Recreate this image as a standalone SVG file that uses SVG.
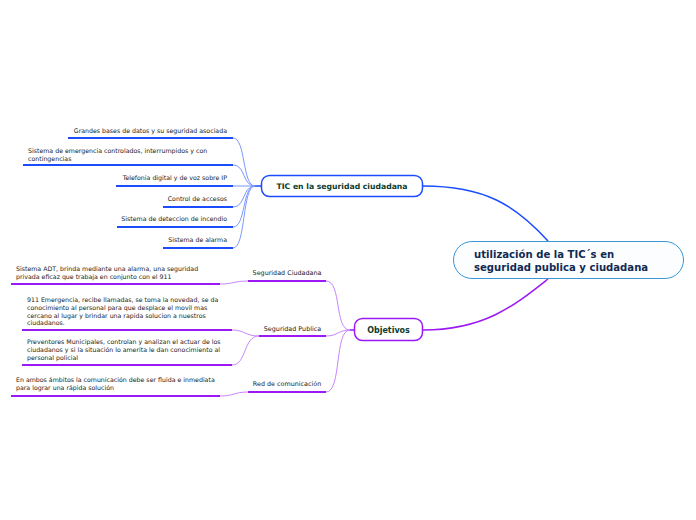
<svg xmlns="http://www.w3.org/2000/svg" width="696" height="520" viewBox="0 0 696 520">
<style>
.leaf{font-family:"DejaVu Sans",Verdana,sans-serif;font-size:6.25px;fill:#222}
.lbl{font-family:"DejaVu Sans",Verdana,sans-serif;font-size:6.4px;fill:#222;text-anchor:middle}
.ub{stroke:#1b4dff;stroke-width:2;fill:none}
.up{stroke:#9b19f5;stroke-width:2;fill:none}
.cb{stroke:#7b98ff;stroke-width:1;fill:none}
.cp{stroke:#c685ff;stroke-width:1;fill:none}
.nt{font-family:"DejaVu Sans",Verdana,sans-serif;font-weight:bold;fill:#0d3b2b;text-anchor:middle}
</style>
<rect width="696" height="520" fill="#ffffff"/>
<g id="connectors">
<path d="M423,186 C485,186 515,205 548,241" stroke="#1b4dff" stroke-width="1.5" fill="none"/>
<path d="M423,330 C485,330 515,305 548,279" stroke="#9b19f5" stroke-width="1.5" fill="none"/>
<path class="cb" d="M233,138 C246,138 242,186 255,186"/>
<path class="cb" d="M233,165 C246,165 242,186 255,186"/>
<path class="cb" d="M233,186 L255,186"/>
<path class="cb" d="M233,207 C246,207 242,186 255,186"/>
<path class="cb" d="M233,227 C246,227 242,186 255,186"/>
<path class="cb" d="M233,248 C246,248 242,186 255,186"/>
<path d="M255,186 L261,186" stroke="#1b4dff" stroke-width="1.5"/>
<path class="cp" d="M326,281 C342,281 334,330 350,330"/>
<path class="cp" d="M326,336 C338,336 338,330 350,330"/>
<path class="cp" d="M326,392 C342,392 334,330 350,330"/>
<path d="M350,330 L354,330" stroke="#9b19f5" stroke-width="1.5"/>
<path class="cp" d="M220,284 C234,284 234,281 248,281"/>
<path class="cp" d="M232,330 C245,330 245,336 259,336"/>
<path class="cp" d="M232,365 C247,365 243,336 259,336"/>
<path class="cp" d="M220,396 C234,396 234,392 248,392"/>
</g>
<g id="main">
<rect x="453.5" y="241.5" width="230" height="37" rx="18.5" fill="#fbfdff" stroke="#3b96d6" stroke-width="1"/>
<text x="474" y="258" font-family="DejaVu Sans,Verdana,sans-serif" font-weight="bold" font-size="10.1" fill="#112a52">utilización de la TIC´s en</text>
<text x="474" y="270.5" font-family="DejaVu Sans,Verdana,sans-serif" font-weight="bold" font-size="10.1" fill="#112a52">seguridad publica y ciudadana</text>
</g>
<g id="tic">
<rect x="261.5" y="175.5" width="161" height="21" rx="8" fill="#ffffff" stroke="#1b4dff" stroke-width="1.5"/>
<text class="nt" x="342" y="189" font-size="7.7">TIC en la seguridad ciudadana</text>
</g>
<g id="objetivos">
<rect x="354.5" y="318.5" width="68" height="22" rx="8" fill="#ffffff" stroke="#9b19f5" stroke-width="1.5"/>
<text class="nt" x="388.5" y="332.5" font-size="8">Objetivos</text>
</g>
<g id="leaf-grandes">
<text class="leaf" x="227" y="133" text-anchor="end">Grandes bases de datos y su seguridad asociada</text>
<path class="ub" d="M68,138 H233"/>
</g>
<g id="leaf-emergencia">
<text class="leaf" x="28" y="153">Sistema de emergencia controlados, interrumpidos y con</text>
<text class="leaf" x="28" y="161">contingencias</text>
<path class="ub" d="M23,165 H233"/>
</g>
<g id="leaf-telefonia">
<text class="leaf" x="227" y="180" text-anchor="end">Telefonia digital y de voz sobre IP</text>
<path class="ub" d="M116,186 H233"/>
</g>
<g id="leaf-control">
<text class="leaf" x="227" y="201" text-anchor="end">Control de accesos</text>
<path class="ub" d="M163,207 H233"/>
</g>
<g id="leaf-incendio">
<text class="leaf" x="227" y="221" text-anchor="end">Sistema de deteccion de incendio</text>
<path class="ub" d="M117,227 H233"/>
</g>
<g id="leaf-alarma">
<text class="leaf" x="227" y="242" text-anchor="end">Sistema de alarma</text>
<path class="ub" d="M163,248 H233"/>
</g>
<g id="seg-ciudadana">
<text class="lbl" x="287" y="275">Seguridad Ciudadana</text>
<path class="up" d="M248,281 H326"/>
</g>
<g id="seg-publica">
<text class="lbl" x="292.5" y="331">Seguridad Publica</text>
<path class="up" d="M259,336 H326"/>
</g>
<g id="red">
<text class="lbl" x="287" y="386">Red de comunicación</text>
<path class="up" d="M248,392 H326"/>
</g>
<g id="leaf-adt">
<text class="leaf" x="16" y="271">Sistema ADT, brinda mediante una alarma, una seguridad</text>
<text class="leaf" x="16" y="279">privada eficaz que trabaja en conjunto con el 911</text>
<path class="up" d="M11,284 H220"/>
</g>
<g id="leaf-911">
<text class="leaf" x="27" y="302">911 Emergencia, recibe llamadas, se toma la novedad, se da</text>
<text class="leaf" x="27" y="310">conocimiento al personal para que desplace el movil mas</text>
<text class="leaf" x="27" y="317.5">cercano al lugar y brindar una rapida solucion a nuestros</text>
<text class="leaf" x="27" y="325">ciudadanos.</text>
<path class="up" d="M22,330 H232"/>
</g>
<g id="leaf-preventores">
<text class="leaf" x="27" y="344">Preventores Municipales, controlan y analizan el actuar de los</text>
<text class="leaf" x="27" y="352">ciudadanos y si la situación lo amerita le dan conocimiento al</text>
<text class="leaf" x="27" y="360">personal policial</text>
<path class="up" d="M22,365 H232"/>
</g>
<g id="leaf-ambos">
<text class="leaf" x="16" y="382">En ambos ámbitos la comunicación debe ser fluida e inmediata</text>
<text class="leaf" x="16" y="390">para lograr una rápida solución</text>
<path class="up" d="M11,396 H220"/>
</g>
</svg>
